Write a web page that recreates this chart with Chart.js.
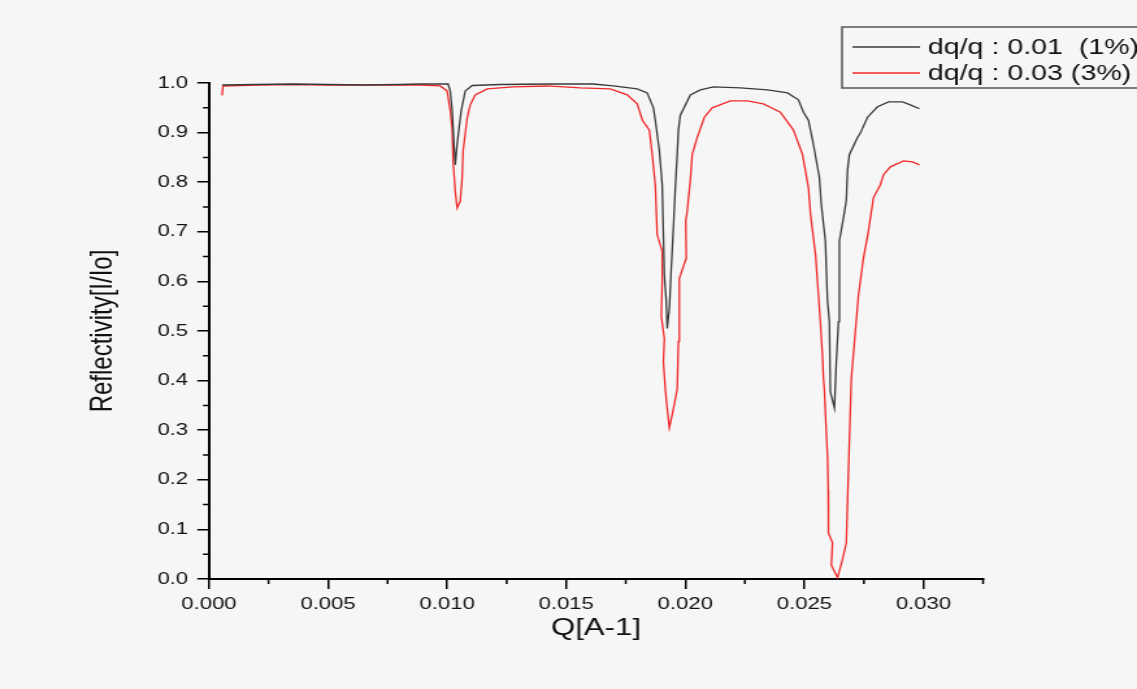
<!DOCTYPE html>
<html>
<head>
<meta charset="utf-8">
<script src="https://cdn.jsdelivr.net/npm/chart.js@4.4.0/dist/chart.umd.min.js"></script>
<style>
    html, body { margin: 0; padding: 0; background: #f6f6f6; overflow: hidden; }
    /* the original picture is stretched sideways, so draw narrow and stretch */
    #wrap { width: 875px; height: 689px; transform: scaleX(1.29943); transform-origin: 0 0; }
</style>
</head>
<body>
<div id="wrap"><canvas id="chart"></canvas></div>
<script>
// dq/q = 0.01 (1%)
const qBlack = [0.00055, 0.0020, 0.0035, 0.0050, 0.0065, 0.0080, 0.00887, 0.01004, 0.01013, 0.01021, 0.01025, 0.01029,
    0.01034, 0.01042, 0.01050, 0.01059, 0.01076, 0.01105, 0.01223, 0.0142, 0.01613, 0.01697, 0.01798, 0.0184, 0.01866,
    0.01874, 0.01891, 0.01903, 0.01908, 0.01912, 0.0192, 0.01924, 0.01933, 0.01941, 0.0195, 0.01958, 0.01966, 0.01971,
    0.01979, 0.02021, 0.02063, 0.02118, 0.02231, 0.02345, 0.02429, 0.02475, 0.02496, 0.02517, 0.02538, 0.02563, 0.02571,
    0.02588, 0.02597, 0.02605, 0.02609, 0.02626, 0.02634, 0.02643, 0.02647, 0.02664, 0.02676, 0.02681, 0.02689, 0.02723,
    0.02735, 0.02765, 0.02807, 0.02853, 0.02912, 0.02945, 0.02983];
const rBlack = [0.996, 0.997, 0.998, 0.997, 0.996, 0.997, 0.998, 0.998, 0.984, 0.944, 0.909, 0.875,
    0.835, 0.877, 0.909, 0.944, 0.984, 0.995, 0.997, 0.998, 0.998, 0.994, 0.988, 0.980, 0.950,
    0.925, 0.864, 0.795, 0.694, 0.613, 0.560, 0.505, 0.546, 0.627, 0.708, 0.789, 0.856, 0.905,
    0.935, 0.976, 0.986, 0.992, 0.990, 0.986, 0.980, 0.966, 0.941, 0.925, 0.876, 0.809, 0.755,
    0.682, 0.560, 0.519, 0.377, 0.345, 0.438, 0.519, 0.682, 0.728, 0.763, 0.824, 0.856, 0.890,
    0.899, 0.931, 0.952, 0.962, 0.962, 0.956, 0.948];

// dq/q = 0.03 (3%)
const qRed = [0.00055, 0.00059, 0.0020, 0.0035, 0.0050, 0.0065, 0.0080, 0.00887, 0.00971, 0.0100, 0.01013, 0.01021,
    0.01025, 0.01034, 0.01042, 0.01055, 0.01063, 0.01067, 0.01084, 0.01097, 0.01118, 0.01168, 0.01223, 0.01277, 0.0142,
    0.01559, 0.01685, 0.01756, 0.01798, 0.0182, 0.01849, 0.01861, 0.01874, 0.01882, 0.01903, 0.01903, 0.01899, 0.01912,
    0.01908, 0.01916, 0.01924, 0.01933, 0.0195, 0.01966, 0.01971, 0.01975, 0.02004, 0.02002, 0.02008, 0.02021, 0.02029,
    0.0205, 0.0208, 0.02113, 0.02189, 0.0226, 0.02328, 0.02399, 0.02454, 0.02492, 0.02517, 0.02526, 0.02547, 0.02559,
    0.02567, 0.02576, 0.0258, 0.02584, 0.0259, 0.02597, 0.0260, 0.02601, 0.02618, 0.02613, 0.02639, 0.0266, 0.02676,
    0.02689, 0.02697, 0.02714, 0.02727, 0.02748, 0.02769, 0.0279, 0.02819, 0.02832, 0.02861, 0.02916, 0.02954, 0.02983];
const rRed = [0.975, 0.994, 0.996, 0.997, 0.996, 0.996, 0.996, 0.996, 0.994, 0.984, 0.944, 0.909,
    0.843, 0.782, 0.748, 0.762, 0.808, 0.863, 0.929, 0.956, 0.976, 0.988, 0.990, 0.992, 0.994,
    0.990, 0.988, 0.976, 0.958, 0.925, 0.905, 0.856, 0.795, 0.694, 0.661, 0.600, 0.531, 0.485,
    0.438, 0.383, 0.343, 0.305, 0.343, 0.383, 0.479, 0.606, 0.647, 0.722, 0.742, 0.803, 0.856,
    0.890, 0.931, 0.950, 0.964, 0.964, 0.958, 0.941, 0.905, 0.856, 0.789, 0.734, 0.653, 0.572,
    0.519, 0.450, 0.405, 0.380, 0.316, 0.247, 0.180, 0.093, 0.073, 0.028, 0.003, 0.039, 0.073,
    0.282, 0.404, 0.499, 0.572, 0.647, 0.702, 0.769, 0.795, 0.815, 0.831, 0.843, 0.841, 0.835];

const seriesLabels = ['dq/q : 0.01  (1%)', 'dq/q : 0.03 (3%)'];
const seriesColors = ['#3a3a3a', '#f02828'];

const FONT = '"Liberation Sans", Arial, sans-serif';

function toPoints(xs, ys) {
    return xs.map((x, i) => ({ x: x, y: ys[i] }));
}

// minor ticks halfway between the major ones
const minorTicks = {
    id: 'minorTicks',
    afterDraw(chart) {
        const ctx = chart.ctx;
        const xs = chart.scales.x;
        const ys = chart.scales.y;
        ctx.save();
        ctx.strokeStyle = '#000';
        ctx.lineWidth = 1.5;
        ctx.beginPath();
        for (let v = 0.0025; v <= 0.0326; v += 0.005) {
            const px = xs.getPixelForValue(v);
            ctx.moveTo(px, ys.bottom);
            ctx.lineTo(px, ys.bottom + 5);
        }
        for (let v = 0.05; v < 1; v += 0.1) {
            const py = ys.getPixelForValue(v);
            ctx.moveTo(xs.left, py);
            ctx.lineTo(xs.left - 4.6, py);
        }
        ctx.stroke();
        ctx.restore();
    }
};

// boxed legend at the top right, running off the edge like the original
const boxLegend = {
    id: 'boxLegend',
    afterDraw(chart) {
        const ctx = chart.ctx;
        ctx.save();
        ctx.strokeStyle = '#555';
        ctx.lineWidth = 1.5;
        ctx.strokeRect(648, 27, 300, 61);
        ctx.font = '22px ' + FONT;
        ctx.textBaseline = 'middle';
        ctx.fillStyle = '#111';
        chart.data.datasets.forEach((ds, i) => {
            const y = 47 + i * 26;
            ctx.strokeStyle = ds.borderColor;
            ctx.lineWidth = 1.3;
            ctx.beginPath();
            ctx.moveTo(656, y);
            ctx.lineTo(708, y);
            ctx.stroke();
            ctx.fillText(ds.label, 714, y + 1);
        });
        ctx.restore();
    }
};

new Chart(document.getElementById('chart'), {
    type: 'scatter',
    data: {
        datasets: [
            {
                label: seriesLabels[0],
                data: toPoints(qBlack, rBlack),
                borderColor: seriesColors[0],
                backgroundColor: seriesColors[0],
                borderWidth: 1.3,
                showLine: true,
                pointRadius: 0,
                tension: 0,
                clip: false
            },
            {
                label: seriesLabels[1],
                data: toPoints(qRed, rRed),
                borderColor: seriesColors[1],
                backgroundColor: seriesColors[1],
                borderWidth: 1.3,
                showLine: true,
                pointRadius: 0,
                tension: 0,
                clip: false
            }
        ]
    },
    options: {
        responsive: true,
        maintainAspectRatio: false,
        animation: false,
        layout: { padding: { top: 83, right: 118.5, left: 0, bottom: 0 } },
        plugins: {
            legend: { display: false },
            tooltip: { enabled: false }
        },
        scales: {
            x: {
                type: 'linear',
                min: 0,
                max: 0.0325,
                afterFit: (scale) => { scale.height = 110; },
                border: { display: true, color: '#000', width: 2 },
                grid: { drawOnChartArea: false, drawTicks: true, tickLength: 10, color: '#000', lineWidth: 1.5 },
                ticks: {
                    stepSize: 0.005,
                    includeBounds: false,
                    padding: 5,
                    color: '#111',
                    maxRotation: 0,
                    font: { family: FONT, size: 17 },
                    callback: (v) => Number(v).toFixed(3)
                },
                title: {
                    display: true,
                    text: 'Q[A-1]',
                    color: '#111',
                    font: { family: FONT, size: 24 },
                    padding: { top: 0, bottom: 46 }
                }
            },
            y: {
                min: 0,
                max: 1,
                afterFit: (scale) => { scale.width = 160.8; },
                border: { display: true, color: '#000', width: 2 },
                grid: { drawOnChartArea: false, drawTicks: true, tickLength: 9, color: '#000', lineWidth: 1.5 },
                ticks: {
                    stepSize: 0.1,
                    padding: 7,
                    color: '#111',
                    font: { family: FONT, size: 17 },
                    callback: (v) => Number(v).toFixed(1)
                },
                title: {
                    display: true,
                    text: 'Reflectivity[I/Io]',
                    color: '#111',
                    font: { family: FONT, size: 24 },
                    padding: { top: 65, bottom: 0 }
                }
            }
        }
    },
    plugins: [minorTicks, boxLegend]
});
</script>
</body>
</html>
